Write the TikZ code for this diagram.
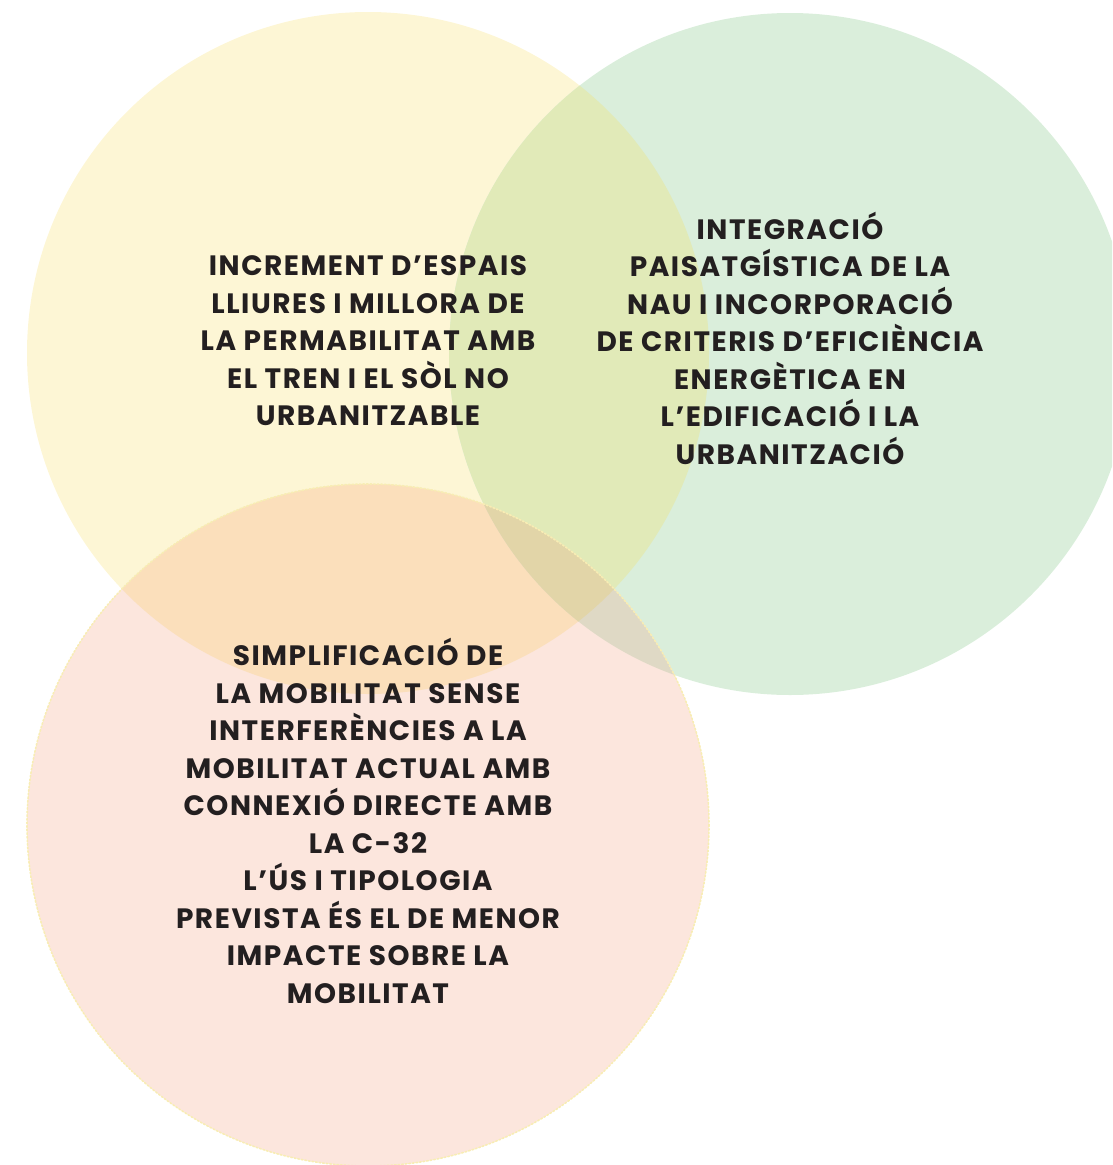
\documentclass[tikz,border=0pt]{standalone}
\usepackage{fontspec}
\setmainfont{Poppins}[LetterSpace=5.5]
\definecolor{yellowfill}{HTML}{FDF6D5}
\definecolor{greenfill}{HTML}{DAEEDB}
\definecolor{pinkfill}{HTML}{FCE6DD}
\definecolor{yellowgreen}{HTML}{E1EAB8}
\definecolor{yellowpink}{HTML}{FBDFBB}
\definecolor{greenpink}{HTML}{DFD9C5}
\definecolor{allthree}{HTML}{E2D5A8}
\definecolor{pinkedge}{HTML}{F8EDB4}
\definecolor{textdark}{HTML}{231F20}
\begin{document}
\begin{tikzpicture}[x=1pt, y=-1pt, line cap=round, line join=round,
	goal/.style={align=center, text=textdark, inner sep=0pt,
		font=\bfseries\fontsize{28}{37.5}\selectfont}]
\useasboundingbox (0,0) rectangle (1112,1165);
\clip (0,0) rectangle (1112,1165);
%========================
% circles
%========================
\def\rad{341}
\coordinate (yellowc) at (368,353);
\coordinate (greenc) at (790,354);
\coordinate (pinkc) at (368,825);

\fill[yellowfill] (yellowc) circle (\rad);
\fill[greenfill] (greenc) circle (\rad);
\fill[pinkfill] (pinkc) circle (\rad);

% overlaps
\begin{scope}
	\clip (yellowc) circle (\rad);
	\fill[yellowgreen] (greenc) circle (\rad);
	\fill[yellowpink] (pinkc) circle (\rad);
\end{scope}
\begin{scope}
	\clip (greenc) circle (\rad);
	\fill[greenpink] (pinkc) circle (\rad);
	\clip (yellowc) circle (\rad);
	\fill[allthree] (pinkc) circle (\rad);
\end{scope}

% dotted rim of the bottom circle
\draw[pinkedge, line width=1.6pt, dotted] (pinkc) circle (\rad);

%========================
% texts
%========================
\node[goal] (espais) at (368,341) {INCREMENT D’ESPAIS\\LLIURES I MILLORA DE\\LA PERMABILITAT AMB\\EL TREN I EL SÒL NO\\URBANITZABLE};
\node[goal] (paisatge) at (790,338) {INTEGRACIÓ\\PAISATGÍSTICA DE LA\\NAU I INCORPORACIÓ\\DE CRITERIS D’EFICIÈNCIA\\ENERGÈTICA EN\\L’EDIFICACIÓ I LA\\URBANITZACIÓ};
\node[goal] (mobilitat) at (368,821) {SIMPLIFICACIÓ DE\\LA MOBILITAT SENSE\\INTERFERÈNCIES A LA\\MOBILITAT ACTUAL AMB\\CONNEXIÓ DIRECTE AMB\\LA C-32\\L’ÚS I TIPOLOGIA\\PREVISTA ÉS EL DE MENOR\\IMPACTE SOBRE LA\\MOBILITAT};
\end{tikzpicture}
\end{document}
